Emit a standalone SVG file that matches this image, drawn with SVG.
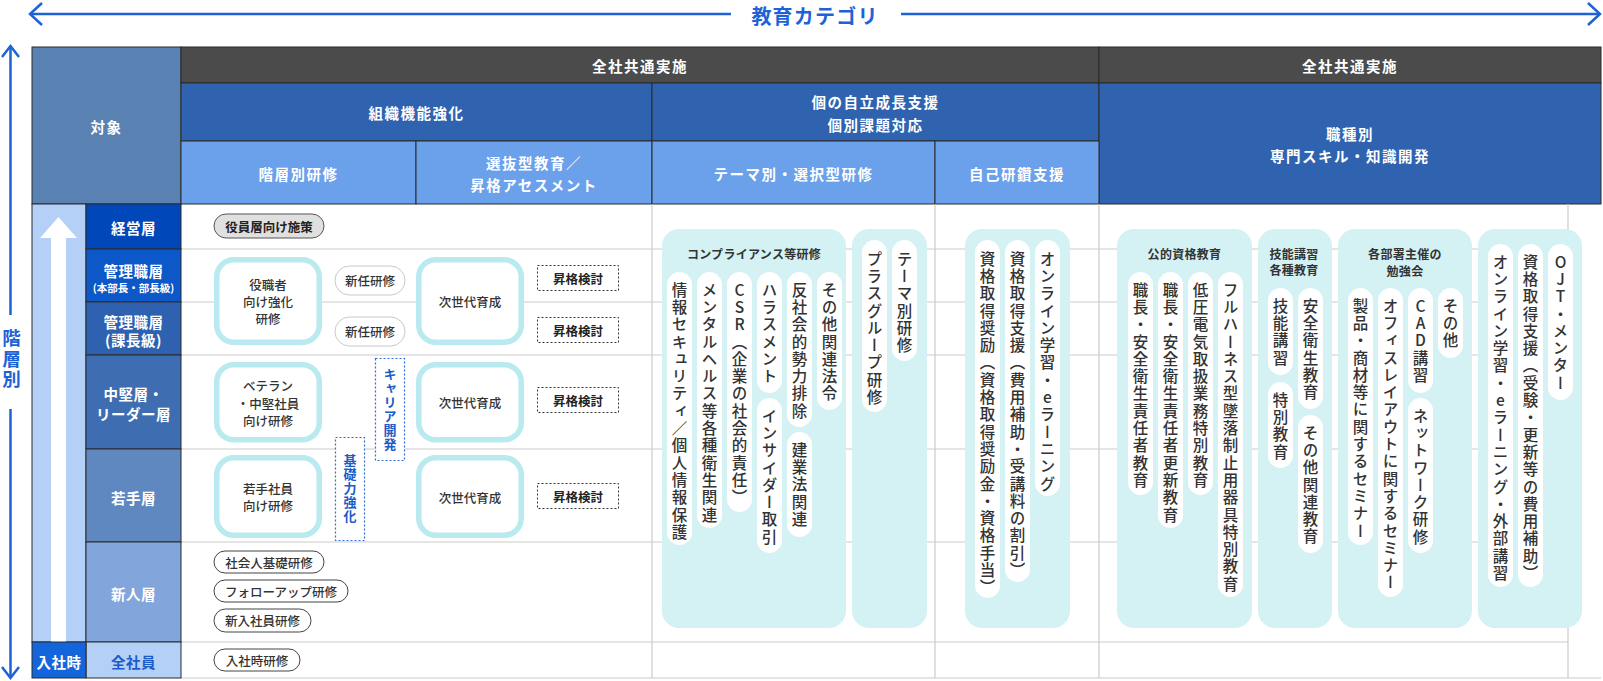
<svg xmlns="http://www.w3.org/2000/svg" width="1603" height="681" viewBox="0 0 1603 681">
<defs>
<style>
text{font-family:"Noto Sans CJK JP","Noto Sans",sans-serif}
.h{font-size:14.5px;font-weight:700;fill:#fff;text-anchor:middle;dominant-baseline:central;letter-spacing:1.5px}
.r{font-size:14.5px;font-weight:700;fill:#fff;text-anchor:middle;dominant-baseline:central;letter-spacing:0.5px}
.rs{font-size:10.5px;font-weight:700;fill:#fff;text-anchor:middle;dominant-baseline:central}
.t{font-size:12.5px;font-weight:500;fill:#333;text-anchor:middle;dominant-baseline:central}
.tb{font-size:12.5px;font-weight:700;fill:#222;text-anchor:middle;dominant-baseline:central}
.ct{font-size:12px;font-weight:700;fill:#333;text-anchor:middle;dominant-baseline:central;letter-spacing:0.3px}
.v{font-size:15.5px;font-weight:500;fill:#333;writing-mode:vertical-rl;text-orientation:upright;letter-spacing:1.8px}
.vb{font-size:13px;font-weight:700;fill:#1a5cc8;writing-mode:vertical-rl;text-orientation:upright;letter-spacing:1px}
.hc{stroke:#2b2b2b;stroke-width:1}
.cell{stroke:#2b2b2b;stroke-width:1}
.grid{stroke:#cbcbcb;stroke-width:1.2;fill:none}
.cbox{fill:#d4f1f4}
.wp{fill:#fff}
.ring{fill:#fff;stroke:#b8eaf0;stroke-width:5.5}
.gp{fill:#fff;stroke:#c8c8c8;stroke-width:1}
.dp{fill:#fff;stroke:#444;stroke-width:1}
.dash{fill:#fff;stroke:#333;stroke-width:1;stroke-dasharray:2 2}
.bdash{fill:#fff;stroke:#2a6fd6;stroke-width:1.2;stroke-dasharray:2 2}
.ax{stroke:#1d63d6;stroke-width:2.5;fill:none}
.axt{font-weight:700;fill:#1d63d6}
</style>
</defs>
<rect width="1603" height="681" fill="#fff"/>

<!-- header -->
<g id="header">
<rect class="hc" x="32" y="47" width="149" height="157" fill="#5982b2"/>
<text class="h" x="106.5" y="126">対象</text>
<rect class="hc" x="181" y="47" width="918" height="36" fill="#4a4b4a"/>
<text class="h" x="640" y="65">全社共通実施</text>
<rect class="hc" x="1099" y="47" width="502" height="36" fill="#4a4b4a"/>
<text class="h" x="1350" y="65">全社共通実施</text>
<rect class="hc" x="181" y="83" width="471" height="58" fill="#2f63b0"/>
<text class="h" x="416.5" y="112">組織機能強化</text>
<rect class="hc" x="652" y="83" width="447" height="58" fill="#2f63b0"/>
<text class="h" x="875.5" y="101">個の自立成長支援</text>
<text class="h" x="875.5" y="124">個別課題対応</text>
<rect class="hc" x="1099" y="83" width="502" height="121" fill="#2f63b0"/>
<text class="h" x="1350" y="133">職種別</text>
<text class="h" x="1350" y="155">専門スキル・知識開発</text>
<rect class="hc" x="181" y="141" width="235" height="63" fill="#6ba0ea"/>
<text class="h" x="298.5" y="173">階層別研修</text>
<rect class="hc" x="416" y="141" width="236" height="63" fill="#6ba0ea"/>
<text class="h" x="534" y="162">選抜型教育／</text>
<text class="h" x="534" y="184">昇格アセスメント</text>
<rect class="hc" x="652" y="141" width="283" height="63" fill="#6ba0ea"/>
<text class="h" x="793.5" y="173">テーマ別・選択型研修</text>
<rect class="hc" x="935" y="141" width="164" height="63" fill="#6ba0ea"/>
<text class="h" x="1017" y="173">自己研鑽支援</text>
</g>

<!-- grid -->
<g id="grid">
<path class="grid" d="M181 249H1568M181 302H1568M181 355H1568M181 449H1568M181 542H1568M181 642H1568M181 678H1601M652 204V678M935 204V678M1099 204V678M1568 204V678"/>
</g>

<!-- left rows -->
<g id="levels">
<rect x="32" y="204" width="54" height="438" fill="#b4d0f6" class="cell"/>
<polygon fill="#fff" points="40,238 58.5,217 77,238 66,238 66,642 51,642 51,238"/>
<g id="row-keiei"><rect class="cell" x="86" y="204" width="95" height="45" fill="#0047b9"/><text class="r" x="133.5" y="227">経営層</text></g>
<g id="row-kanri1"><rect class="cell" x="86" y="249" width="95" height="53" fill="#0c58c9"/><text class="r" x="133.5" y="270">管理職層</text><text class="rs" x="133.5" y="287">(本部長・部長級)</text></g>
<g id="row-kanri2"><rect class="cell" x="86" y="302" width="95" height="53" fill="#2e62b0"/><text class="r" x="133.5" y="321">管理職層</text><text class="r" x="133.5" y="339">(課長級)</text></g>
<g id="row-chuken"><rect class="cell" x="86" y="355" width="95" height="94" fill="#3f6db1"/><text class="r" x="133.5" y="393">中堅層・</text><text class="r" x="133.5" y="413">リーダー層</text></g>
<g id="row-wakate"><rect class="cell" x="86" y="449" width="95" height="93" fill="#6088c0"/><text class="r" x="133.5" y="497">若手層</text></g>
<g id="row-shinjin"><rect class="cell" x="86" y="542" width="95" height="100" fill="#82a6dc"/><text class="r" x="133.5" y="593">新人層</text></g>
<g id="row-zensha"><rect class="cell" x="86" y="642" width="95" height="36" fill="#b4d0f6"/><text class="r" x="133.5" y="661" style="fill:#1a5cc8">全社員</text></g>
<g id="row-nyusha"><rect class="cell" x="32" y="642" width="54" height="36" fill="#1464dc"/><text class="r" x="59" y="661">入社時</text></g>
</g>

<!-- axes -->
<g id="connectors">
<path class="ax" d="M30 14H731M901 14H1599"/>
<path class="ax" d="M42 3L30 14L42 25"/>
<path class="ax" d="M1588 3L1600 14L1588 25"/>
<text class="axt" x="815" y="15" text-anchor="middle" dominant-baseline="central" style="font-size:20px;letter-spacing:1.2px">教育カテゴリ</text>
<path class="ax" d="M10.5 46V315M10.5 409V678"/>
<path class="ax" d="M2 57L10.5 46L19 57"/>
<path class="ax" d="M2 667L10.5 678L19 667"/>
<text class="axt" x="11.5" y="329" style="font-size:18.5px;writing-mode:vertical-rl;text-orientation:upright;letter-spacing:1.8px">階層別</text>
</g>

<!-- layered training -->
<g id="n-yakuin"><rect x="214" y="214" width="110" height="24" rx="12" fill="#e0e0e0" stroke="#555"/><text class="tb" x="269" y="226">役員層向け施策</text></g>
<g id="n-yakushoku"><rect class="ring" x="216.75" y="259.75" width="102.5" height="82.5" rx="17"/><text class="t" x="268" y="284">役職者</text><text class="t" x="268" y="301">向け強化</text><text class="t" x="268" y="318">研修</text></g>
<g id="n-shinnin1"><rect class="gp" x="335" y="266" width="70" height="29" rx="14.5"/><text class="t" x="370" y="280.5">新任研修</text></g>
<g id="n-shinnin2"><rect class="gp" x="335" y="317" width="70" height="29" rx="14.5"/><text class="t" x="370" y="331.5">新任研修</text></g>
<g id="n-veteran"><rect class="ring" x="216.75" y="364.75" width="102.5" height="75" rx="17"/><text class="t" x="268" y="385">ベテラン</text><text class="t" x="268" y="403">・中堅社員</text><text class="t" x="268" y="420">向け研修</text></g>
<g id="n-wakate"><rect class="ring" x="216.75" y="457.75" width="102.5" height="77.5" rx="17"/><text class="t" x="268" y="488">若手社員</text><text class="t" x="268" y="505">向け研修</text></g>
<g id="n-career"><rect class="bdash" x="375.5" y="358.5" width="29" height="102"/><text class="vb" x="390" y="368">キャリア開発</text></g>
<g id="n-kiso"><rect class="bdash" x="335.5" y="437.5" width="29" height="103"/><text class="vb" x="350" y="454">基礎力強化</text></g>
<g id="n-shakaijin"><rect class="dp" x="214" y="551" width="110" height="22" rx="11"/><text class="t" x="269" y="562">社会人基礎研修</text></g>
<g id="n-follow"><rect class="dp" x="214" y="580" width="134" height="22" rx="11"/><text class="t" x="281" y="591">フォローアップ研修</text></g>
<g id="n-shinnyu"><rect class="dp" x="214" y="609" width="97" height="23" rx="11.5"/><text class="t" x="262.5" y="620.5">新入社員研修</text></g>
<g id="n-nyushaji"><rect class="dp" x="214" y="649" width="86" height="22" rx="11"/><text class="t" x="257" y="660">入社時研修</text></g>

<!-- selection / assessment -->
<g id="n-jisedai1"><rect class="ring" x="418.75" y="259.75" width="102.5" height="82.5" rx="17"/><text class="t" x="470" y="301">次世代育成</text></g>
<g id="n-jisedai2"><rect class="ring" x="418.75" y="364.75" width="102.5" height="75" rx="17"/><text class="t" x="470" y="402.5">次世代育成</text></g>
<g id="n-jisedai3"><rect class="ring" x="418.75" y="457.75" width="102.5" height="77.5" rx="17"/><text class="t" x="470" y="497">次世代育成</text></g>
<g id="n-shokaku1"><rect class="dash" x="537.5" y="265.5" width="81" height="25"/><text class="tb" x="578" y="278">昇格検討</text></g>
<g id="n-shokaku2"><rect class="dash" x="537.5" y="317.5" width="81" height="25"/><text class="tb" x="578" y="330">昇格検討</text></g>
<g id="n-shokaku3"><rect class="dash" x="537.5" y="387.5" width="81" height="25"/><text class="tb" x="578" y="400">昇格検討</text></g>
<g id="n-shokaku4"><rect class="dash" x="537.5" y="483.5" width="81" height="25"/><text class="tb" x="578" y="496">昇格検討</text></g>

<!-- compliance -->
<g id="n-compliance">
<rect class="cbox" x="662" y="229" width="184" height="399" rx="17"/>
<text class="ct" x="754" y="253">コンプライアンス等研修</text>
<rect class="wp" x="667" y="272" width="25" height="273" rx="12.5"/><text class="v" x="679.5" y="282">情報セキュリティ／個人情報保護</text>
<rect class="wp" x="697" y="272" width="25" height="256" rx="12.5"/><text class="v" x="709.5" y="282">メンタルヘルス等各種衛生関連</text>
<rect class="wp" x="727" y="272" width="25" height="240" rx="12.5"/><text class="v" x="739.5" y="282">CSR（企業の社会的責任）</text>
<rect class="wp" x="757" y="272" width="25" height="121" rx="12.5"/><text class="v" x="769.5" y="282">ハラスメント</text>
<rect class="wp" x="757" y="398" width="25" height="155" rx="12.5"/><text class="v" x="769.5" y="408">インサイダー取引</text>
<rect class="wp" x="787" y="272" width="25" height="155" rx="12.5"/><text class="v" x="799.5" y="282">反社会的勢力排除</text>
<rect class="wp" x="787" y="432" width="25" height="105" rx="12.5"/><text class="v" x="799.5" y="442">建業法関連</text>
<rect class="wp" x="817" y="272" width="25" height="138" rx="12.5"/><text class="v" x="829.5" y="282">その他関連法令</text>
</g>
<g id="n-theme">
<rect class="cbox" x="852" y="229" width="75" height="399" rx="17"/>
<rect class="wp" x="862" y="240" width="25" height="172" rx="12.5"/><text class="v" x="874.5" y="251">プラスグループ研修</text>
<rect class="wp" x="892" y="240" width="25" height="121" rx="12.5"/><text class="v" x="904.5" y="251">テーマ別研修</text>
</g>
<g id="n-jiko">
<rect class="cbox" x="965" y="229" width="105" height="399" rx="17"/>
<rect class="wp" x="975" y="240" width="25" height="358" rx="12.5"/><text class="v" x="987.5" y="251">資格取得奨励（資格取得奨励金・資格手当）</text>
<rect class="wp" x="1005" y="240" width="25" height="342" rx="12.5"/><text class="v" x="1017.5" y="251">資格取得支援（費用補助・受講料の割引）</text>
<rect class="wp" x="1035" y="240" width="25" height="256" rx="12.5"/><text class="v" x="1047.5" y="251">オンライン学習・eラーニング</text>
</g>
<g id="n-koteki">
<rect class="cbox" x="1117" y="229" width="135" height="399" rx="17"/>
<text class="ct" x="1184.5" y="253">公的資格教育</text>
<rect class="wp" x="1128" y="272" width="25" height="223" rx="12.5"/><text class="v" x="1140.5" y="282">職長・安全衛生責任者教育</text>
<rect class="wp" x="1158" y="272" width="25" height="256" rx="12.5"/><text class="v" x="1170.5" y="282">職長・安全衛生責任者更新教育</text>
<rect class="wp" x="1188" y="272" width="25" height="223" rx="12.5"/><text class="v" x="1200.5" y="282">低圧電気取扱業務特別教育</text>
<rect class="wp" x="1218" y="272" width="25" height="325" rx="12.5"/><text class="v" x="1230.5" y="282">フルハーネス型墜落制止用器具特別教育</text>
</g>
<g id="n-gino">
<rect class="cbox" x="1258" y="229" width="74" height="399" rx="17"/>
<text class="ct" x="1294" y="253">技能講習</text>
<text class="ct" x="1294" y="269">各種教育</text>
<rect class="wp" x="1268" y="288" width="25" height="87" rx="12.5"/><text class="v" x="1280.5" y="298">技能講習</text>
<rect class="wp" x="1268" y="382" width="25" height="86" rx="12.5"/><text class="v" x="1280.5" y="392">特別教育</text>
<rect class="wp" x="1298" y="288" width="25" height="121" rx="12.5"/><text class="v" x="1310.5" y="298">安全衛生教育</text>
<rect class="wp" x="1298" y="415" width="25" height="138" rx="12.5"/><text class="v" x="1310.5" y="425">その他関連教育</text>
</g>
<g id="n-busho">
<rect class="cbox" x="1338" y="229" width="134" height="399" rx="17"/>
<text class="ct" x="1405" y="253">各部署主催の</text>
<text class="ct" x="1405" y="270">勉強会</text>
<rect class="wp" x="1348" y="288" width="25" height="257" rx="12.5"/><text class="v" x="1360.5" y="298">製品・商材等に関するセミナー</text>
<rect class="wp" x="1378" y="288" width="25" height="309" rx="12.5"/><text class="v" x="1390.5" y="298">オフィスレイアウトに関するセミナー</text>
<rect class="wp" x="1408" y="288" width="25" height="105" rx="12.5"/><text class="v" x="1420.5" y="298">CAD講習</text>
<rect class="wp" x="1408" y="398" width="25" height="155" rx="12.5"/><text class="v" x="1420.5" y="408">ネットワーク研修</text>
<rect class="wp" x="1438" y="288" width="25" height="70" rx="12.5"/><text class="v" x="1450.5" y="298">その他</text>
</g>
<g id="n-other">
<rect class="cbox" x="1478" y="229" width="104" height="399" rx="17"/>
<rect class="wp" x="1488" y="244" width="25" height="343" rx="12.5"/><text class="v" x="1500.5" y="254">オンライン学習・eラーニング・外部講習</text>
<rect class="wp" x="1518" y="244" width="25" height="343" rx="12.5"/><text class="v" x="1530.5" y="254">資格取得支援（受験・更新等の費用補助）</text>
<rect class="wp" x="1548" y="244" width="25" height="156" rx="12.5"/><text class="v" x="1560.5" y="254">OJT・メンター</text>
</g>
</svg>
